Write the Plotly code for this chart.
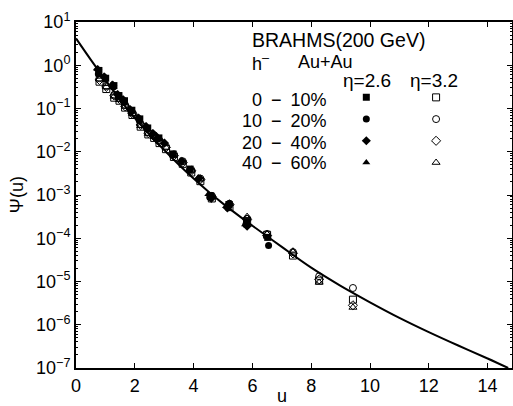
import numpy as np
import plotly.graph_objects as go

# ---- fitted scaling curve (u, log10 psi) ----
curve_u = [0, 0.5, 1, 1.5, 2, 2.5, 3, 3.5, 4, 4.5, 5, 5.5, 6, 7, 8, 9, 10, 11, 12, 13, 14, 14.7]
curve_logpsi = [0.62, 0.13, -0.34, -0.80, -1.22, -1.60, -1.96, -2.30, -2.62, -2.92, -3.20, -3.46,
                -3.71, -4.20, -4.68, -5.10, -5.48, -5.84, -6.17, -6.48, -6.78, -7.0]

# ---- eta = 2.6 (filled) ----
u_c0_10_a = [0.78, 1.01, 1.29, 1.46, 1.65, 1.90, 2.17, 2.44, 2.82, 3.30, 3.88, 4.58, 5.20, 5.80, 6.52]
lp_c0_10_a = [-0.12, -0.30, -0.47, -0.70, -0.82, -1.04, -1.24, -1.45, -1.68, -2.05, -2.40, -3.02, -3.22, -3.62, -3.98]
u_c10_20_a = [0.76, 0.99, 1.27, 1.44, 1.63, 1.87, 2.15, 2.41, 2.80, 3.28, 3.86, 4.55, 5.17, 5.78, 6.55]
lp_c10_20_a = [-0.20, -0.32, -0.50, -0.72, -0.86, -1.07, -1.27, -1.47, -1.70, -2.07, -2.42, -3.05, -3.28, -3.68, -4.17]
u_c20_40_a = [0.74, 0.97, 1.25, 1.42, 1.61, 1.85, 2.13, 2.39, 2.62, 2.78, 3.01, 3.60, 4.18, 4.60, 5.15, 5.82]
lp_c20_40_a = [-0.10, -0.27, -0.46, -0.68, -0.80, -1.03, -1.22, -1.42, -1.58, -1.68, -1.80, -2.22, -2.62, -3.08, -3.30, -3.72]
u_c40_60_a = [0.72, 0.95, 1.22, 1.40, 1.59, 1.83, 2.10, 2.36, 2.60, 2.76, 3.00, 3.55, 4.15, 4.50, 5.10, 5.75]
lp_c40_60_a = [-0.08, -0.25, -0.44, -0.66, -0.79, -1.00, -1.20, -1.40, -1.56, -1.66, -1.78, -2.20, -2.60, -2.98, -3.26, -3.68]

# ---- eta = 3.2 (open) ----
u_b = [0.80, 1.03, 1.30, 1.48, 1.67, 1.92, 2.20, 2.46, 2.66, 2.84, 3.06, 3.33, 3.63, 3.92, 4.23, 4.62,
       5.22, 5.82, 6.50, 7.38, 8.27, 9.42]
lp_c0_10_b = [-0.38, -0.55, -0.75, -0.82, -0.98, -1.15, -1.42, -1.60, -1.68, -1.80, -1.94, -2.12, -2.28,
              -2.48, -2.68, -3.08, -3.28, -3.60, -3.92, -4.40, -4.98, -5.42]
lp_c10_20_b = [-0.30, -0.48, -0.68, -0.76, -0.92, -1.10, -1.36, -1.55, -1.62, -1.74, -1.88, -2.06, -2.22,
               -2.42, -2.62, -3.02, -3.20, -3.55, -3.90, -4.32, -4.88, -5.15]
lp_c20_40_b = [-0.34, -0.50, -0.70, -0.78, -0.95, -1.12, -1.38, -1.57, -1.65, -1.77, -1.90, -2.09, -2.25,
               -2.44, -2.64, -3.04, -3.22, -3.57, -3.94, -4.35, -4.95, -5.55]
lp_c40_60_b = [-0.32, -0.50, -0.72, -0.80, -0.95, -1.12, -1.40, -1.58, -1.65, -1.76, -1.90, -2.08, -2.24,
               -2.43, -2.62, -3.03, -3.20, -3.50, -3.90, -4.30, -5.02, -5.60]

centralities = ["0\u2002\u2212\u200210%", "10\u2002\u2212\u200220%", "20\u2002\u2212\u200240%", "40\u2002\u2212\u200260%"]
x_ticks = [0, 2, 4, 6, 8, 10, 12, 14]
y_exps = [1, 0, -1, -2, -3, -4, -5, -6, -7]

FONT = "Liberation Sans, Arial, Helvetica, sans-serif"

fig = go.Figure()

fig.add_trace(go.Scatter(x=curve_u, y=10 ** np.array(curve_logpsi), mode="lines",
                         line=dict(color="black", width=2, shape="spline"), showlegend=False,
                         hoverinfo="skip"))

filled = [(u_c0_10_a, lp_c0_10_a, "square"), (u_c10_20_a, lp_c10_20_a, "circle"),
          (u_c20_40_a, lp_c20_40_a, "diamond"), (u_c40_60_a, lp_c40_60_a, "triangle-up")]
opened = [(u_b, lp_c0_10_b, "square-open"), (u_b, lp_c10_20_b, "circle-open"),
          (u_b, lp_c20_40_b, "diamond-open"), (u_b, lp_c40_60_b, "triangle-up-open")]

for (u, lp, sym), name in zip(filled, centralities):
    fig.add_trace(go.Scatter(x=u, y=10 ** np.array(lp), mode="markers", name=" ",
                             marker=dict(symbol=sym, size=7, color="black", line=dict(width=0)),
                             legend="legend"))
for (u, lp, sym), name in zip(opened, centralities):
    fig.add_trace(go.Scatter(x=u, y=10 ** np.array(lp), mode="markers", name=" ",
                             marker=dict(symbol=sym, size=7, color="black", line=dict(width=1, color="black")),
                             legend="legend2"))

ticktext = [f"10<sup>{'\u2212' if e < 0 else ''}{abs(e)}</sup>" for e in y_exps]

axis_common = dict(showline=True, linecolor="black", linewidth=2, mirror="ticks", ticks="inside",
                   tickcolor="black", ticklen=5, tickwidth=1, showgrid=False, zeroline=False,
                   automargin=False,
                   tickfont=dict(family=FONT, size=18, color="black"))

fig.update_layout(
    width=513, height=406,
    margin=dict(l=76, r=1, t=22, b=38),
    paper_bgcolor="white", plot_bgcolor="white",
    xaxis=dict(range=[0, 14.83], tickvals=x_ticks, **axis_common),
    yaxis=dict(type="log", range=[-7, 1], tickvals=[10.0 ** e for e in y_exps], ticktext=ticktext,
               minor=dict(ticks="inside", ticklen=2, tickcolor="black", dtick="D1"), **axis_common),
    legend=dict(x=0.62, y=0.828, xanchor="left", yanchor="top", bgcolor="rgba(0,0,0,0)",
                font=dict(family=FONT, size=14.4), itemwidth=30, tracegroupgap=0),
    legend2=dict(x=0.78, y=0.828, xanchor="left", yanchor="top", bgcolor="rgba(0,0,0,0)",
                 font=dict(family=FONT, size=14.4), itemwidth=30, tracegroupgap=0),
    font=dict(family=FONT, color="black"),
)

ann = dict(xref="paper", yref="paper", showarrow=False, font=dict(family=FONT, size=18, color="black"))
fig.add_annotation(x=0.40, y=0.948, text="BRAHMS(200 GeV)", xanchor="left", yanchor="middle",
                   **{**ann, "font": dict(family=FONT, size=19.5, color="black")})
fig.add_annotation(x=0.40, y=0.883, text="h<sup>\u2012</sup>", xanchor="left", yanchor="middle", **ann)
fig.add_annotation(x=0.505, y=0.883, text="Au+Au", xanchor="left", yanchor="middle", **ann)
fig.add_annotation(x=0.667, y=0.832, text="\u03b7=2.6", xanchor="center", yanchor="middle",
                   **{**ann, "font": dict(family=FONT, size=19, color="black")})
fig.add_annotation(x=0.822, y=0.832, text="\u03b7=3.2", xanchor="center", yanchor="middle",
                   **{**ann, "font": dict(family=FONT, size=19, color="black")})
row_y = [0.775, 0.713, 0.651, 0.593]
for name, yy in zip(centralities, row_y):
    fig.add_annotation(x=0.58, y=yy, text=name, xanchor="right", yanchor="middle", **ann)

fig.add_annotation(x=0.472, y=-0.081, text="u", xanchor="center", yanchor="middle", **ann)
fig.add_annotation(x=-0.135, y=0.5, text="\u03a8(u)", textangle=-90, xanchor="center", yanchor="middle", **ann)

fig.write_html("out.html", config={"displayModeBar": False},
               post_script="document.body.style.margin='0';document.body.style.overflow='hidden';")
